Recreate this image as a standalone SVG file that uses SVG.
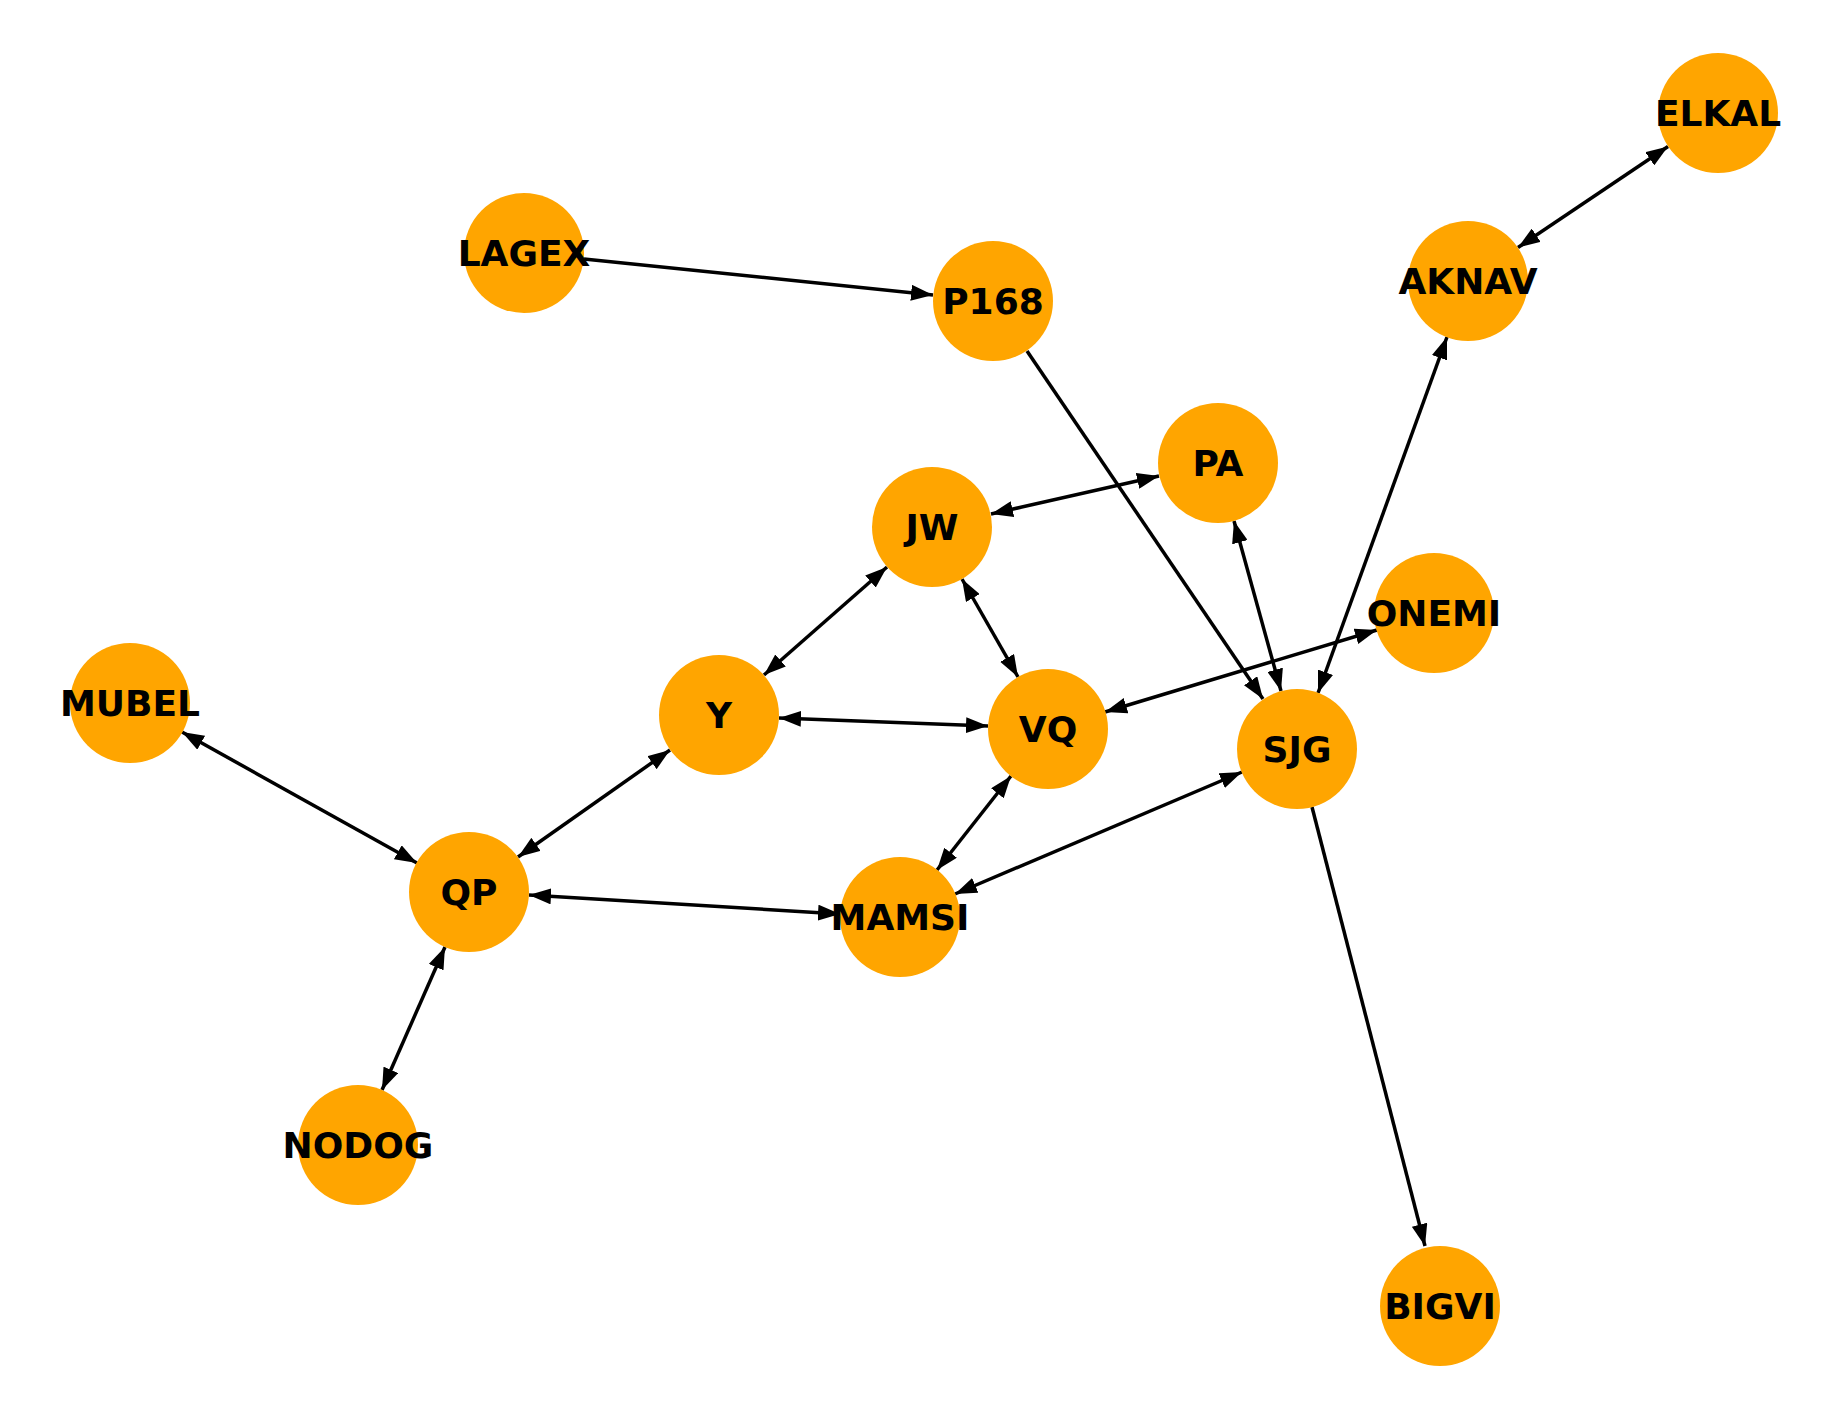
<svg xmlns="http://www.w3.org/2000/svg" width="1830" height="1408" viewBox="0 0 1830 1408">
<style>
.n{fill:#FFA500}
.t{font-family:"DejaVu Sans",sans-serif;font-weight:bold;font-size:36px;fill:#000;text-anchor:middle;dominant-baseline:central}
.e{stroke:#000;stroke-width:3.5;fill:none}
.u{marker-end:url(#a)}
.b{marker-start:url(#a);marker-end:url(#a)}
</style>
<defs><marker id="a" markerUnits="userSpaceOnUse" markerWidth="22" markerHeight="16" refX="22" refY="8" orient="auto-start-reverse" viewBox="0 0 22 16"><path d="M0,0 L22,8 L0,16 z" fill="#000"/></marker></defs>
<rect width="1830" height="1408" fill="#fff"/>
<g id="edges">
<line class="e u" x1="584" y1="259" x2="933" y2="295"/>
<line class="e u" x1="1027" y1="351" x2="1263" y2="699"/>
<line class="e b" x1="1668" y1="146.5" x2="1518" y2="247.5"/>
<line class="e b" x1="1447" y1="337" x2="1318" y2="693"/>
<line class="e b" x1="1159" y1="476" x2="991" y2="514"/>
<line class="e b" x1="1234" y1="521" x2="1281" y2="691"/>
<line class="e b" x1="887" y1="567" x2="764" y2="675"/>
<line class="e b" x1="962" y1="579" x2="1018" y2="677"/>
<line class="e b" x1="1377" y1="630" x2="1105" y2="712"/>
<line class="e b" x1="779" y1="718" x2="988" y2="726"/>
<line class="e b" x1="670" y1="750" x2="518" y2="857"/>
<line class="e b" x1="182" y1="732" x2="417" y2="863"/>
<line class="e b" x1="1011" y1="776" x2="937" y2="870"/>
<line class="e b" x1="955" y1="894" x2="1242" y2="772"/>
<line class="e b" x1="529" y1="895" x2="840" y2="914"/>
<line class="e b" x1="445" y1="947" x2="382" y2="1090"/>
<line class="e u" x1="1312" y1="807" x2="1425" y2="1246"/>
</g>
<g id="ELKAL"><circle class="n" cx="1718" cy="113" r="60"/><text class="t" x="1718" y="113">ELKAL</text></g>
<g id="LAGEX"><circle class="n" cx="524" cy="253" r="60"/><text class="t" x="524" y="253">LAGEX</text></g>
<g id="P168"><circle class="n" cx="993" cy="301" r="60"/><text class="t" x="993" y="301">P168</text></g>
<g id="AKNAV"><circle class="n" cx="1468" cy="281" r="60"/><text class="t" x="1468" y="281">AKNAV</text></g>
<g id="PA"><circle class="n" cx="1218" cy="463" r="60"/><text class="t" x="1218" y="463">PA</text></g>
<g id="JW"><circle class="n" cx="932" cy="527" r="60"/><text class="t" x="932" y="527">JW</text></g>
<g id="ONEMI"><circle class="n" cx="1434" cy="613" r="60"/><text class="t" x="1434" y="613">ONEMI</text></g>
<g id="MUBEL"><circle class="n" cx="130" cy="703" r="60"/><text class="t" x="130" y="703">MUBEL</text></g>
<g id="Y"><circle class="n" cx="719" cy="715" r="60"/><text class="t" x="719" y="715">Y</text></g>
<g id="VQ"><circle class="n" cx="1048" cy="729" r="60"/><text class="t" x="1048" y="729">VQ</text></g>
<g id="SJG"><circle class="n" cx="1297" cy="749" r="60"/><text class="t" x="1297" y="749">SJG</text></g>
<g id="QP"><circle class="n" cx="469" cy="892" r="60"/><text class="t" x="469" y="892">QP</text></g>
<g id="MAMSI"><circle class="n" cx="900" cy="917" r="60"/><text class="t" x="900" y="917">MAMSI</text></g>
<g id="NODOG"><circle class="n" cx="358" cy="1145" r="60"/><text class="t" x="358" y="1145">NODOG</text></g>
<g id="BIGVI"><circle class="n" cx="1440" cy="1306" r="60"/><text class="t" x="1440" y="1306">BIGVI</text></g>
</svg>
